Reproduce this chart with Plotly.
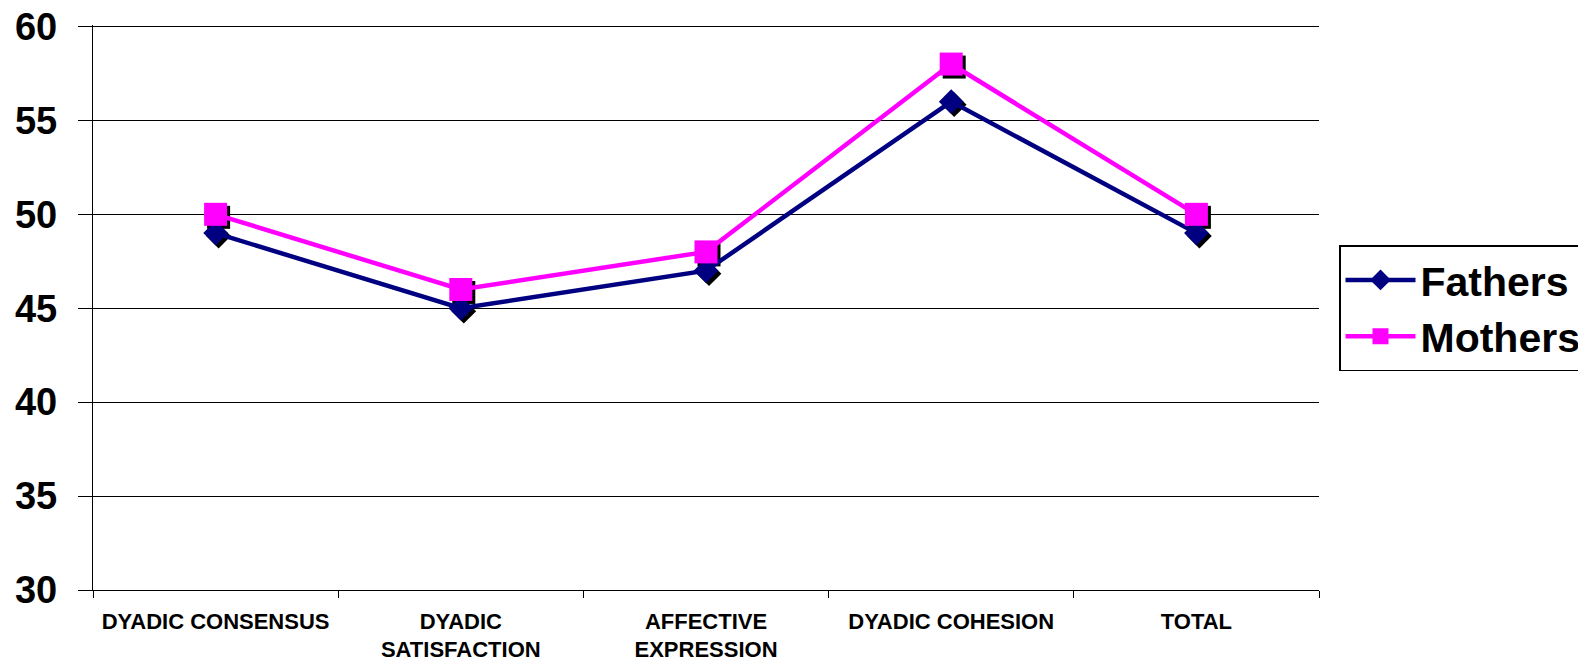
import plotly.graph_objects as go

categories = ["DYADIC CONSENSUS", "DYADIC<br>SATISFACTION", "AFFECTIVE<br>EXPRESSION",
              "DYADIC COHESION", "TOTAL"]
fathers = [49, 45, 47, 56, 49]
mothers = [50, 46, 48, 58, 50]
y_ticks = [30, 35, 40, 45, 50, 55, 60]

W, H = 1578, 662
ML, MR, MB = 93, 259, 72
TOP_PAD = 1.5            # small headroom so the 60 gridline is not clipped at the edge
MT = 26 - TOP_PAD
plot_w = W - ML - MR
plot_h = H - MT - MB
y_lo = y_ticks[0]
y_hi = y_ticks[-1] + TOP_PAD * (y_ticks[-1] - y_ticks[0]) / (plot_h - TOP_PAD)
shadow_px = 3
dx = shadow_px * 5 / plot_w
dy = shadow_px * (y_hi - y_lo) / plot_h

FONT = "Arial, Liberation Sans, sans-serif"
NAVY = "#000080"
MAG = "#FF00FF"

fig = go.Figure()
# marker shadows (hidden base axes with a slightly shifted range)
for vals, sym, size in [(fathers, "diamond", 19), (mothers, "square", 23)]:
    fig.add_trace(go.Scatter(x=categories, y=vals, mode="markers", xaxis="x", yaxis="y",
                             marker=dict(symbol=sym, size=size, color="black", line=dict(width=0)),
                             showlegend=False, hoverinfo="skip"))
fig.add_trace(go.Scatter(x=categories, y=fathers, name="Fathers", mode="lines+markers",
                         xaxis="x2", yaxis="y2",
                         line=dict(color=NAVY, width=4.5),
                         marker=dict(symbol="diamond", size=19, color=NAVY, line=dict(width=0))))
fig.add_trace(go.Scatter(x=categories, y=mothers, name="Mothers", mode="lines+markers",
                         xaxis="x2", yaxis="y2",
                         line=dict(color=MAG, width=4.5),
                         marker=dict(symbol="square", size=23, color=MAG, line=dict(width=0))))

fig.update_layout(
    width=W, height=H,
    margin=dict(l=ML, r=MR, t=MT, b=MB, autoexpand=False),
    paper_bgcolor="white", plot_bgcolor="white",
    font=dict(family=FONT, color="black"),
    xaxis=dict(visible=False, type="category", categoryarray=categories,
               range=[-0.5 - dx, 4.5 - dx], fixedrange=True),
    yaxis=dict(visible=False, range=[y_lo + dy, y_hi + dy], fixedrange=True),
    xaxis2=dict(overlaying="x", type="category", categoryarray=categories,
                range=[-0.5, 4.5], tickson="boundaries", ticks="outside", ticklen=7,
                tickcolor="black", tickwidth=1.3, showline=True, linecolor="black", linewidth=1.3,
                showgrid=False, tickfont=dict(family=FONT, size=22, weight="bold"),
                ticklabelstandoff=11, side="bottom", fixedrange=True),
    yaxis2=dict(overlaying="y", range=[y_lo, y_hi], tickvals=y_ticks, ticks="outside", ticklen=14,
                tickcolor="black", tickwidth=1.3, showline=True, linecolor="black", linewidth=1.3,
                showgrid=True, gridcolor="black", gridwidth=1.3, zeroline=False,
                tickfont=dict(family=FONT, size=38, weight="bold"), ticklabelstandoff=13,
                ticklabeloverflow="allow", side="left", fixedrange=True),
    legend=dict(x=(1339 - ML) / plot_w, xanchor="left", y=(H - MB - 245) / plot_h, yanchor="top",
                bgcolor="white", bordercolor="black", borderwidth=1.5,
                font=dict(family=FONT, size=41, weight="bold"), itemwidth=70),
    showlegend=True,
    hovermode=False,
)

# remove the browser's default 8px body margin so the figure sits at the page origin
fig.write_html("out.html", config={"displayModeBar": False},
               post_script="document.body.style.margin='0';document.body.style.overflow='hidden';")
